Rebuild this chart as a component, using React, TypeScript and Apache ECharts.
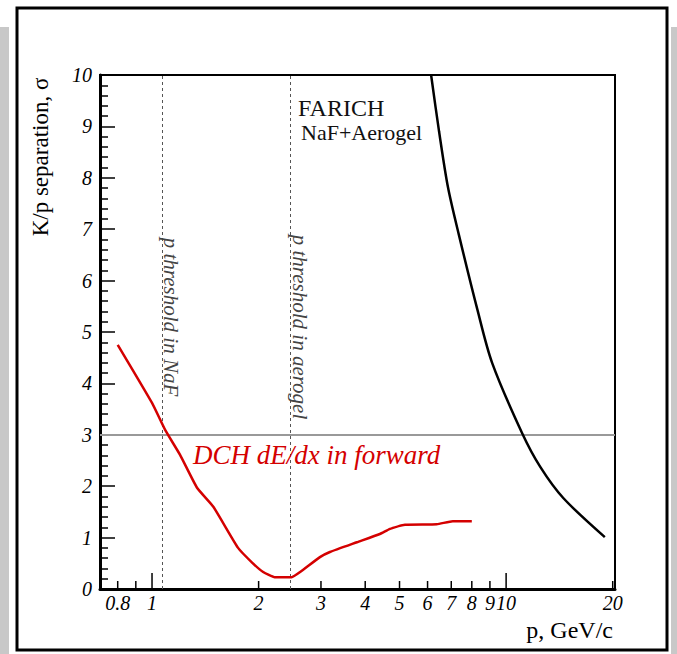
import React, { useEffect, useRef } from "react";
import * as echarts from "echarts";

// DCH dE/dx in forward (red)
const redP = [0.8, 1.0, 1.09, 1.2, 1.34, 1.49, 1.75, 1.92, 2.06, 2.22, 2.48, 2.62, 2.98, 3.18, 3.79, 4.4, 4.7, 5.18, 6.37, 7.07, 8.0];
const redSigma = [4.75, 3.62, 3.09, 2.61, 1.97, 1.6, 0.8, 0.51, 0.33, 0.23, 0.23, 0.33, 0.62, 0.72, 0.91, 1.07, 1.17, 1.25, 1.26, 1.32, 1.32];

// FARICH NaF+Aerogel (black)
const blackP = [6.14, 6.47, 6.85, 7.35, 8.3, 9.13, 11.1, 12.5, 14.5, 19.0];
const blackSigma = [10.0, 8.89, 7.82, 6.9, 5.43, 4.4, 3.03, 2.37, 1.77, 1.01];

// thresholds
const thresholdNaF = 1.067;
const thresholdAerogel = 2.45;
const sigmaLevel = 3;

// x tick marks and labels
const xTickValues = [0.8, 0.9, 1, 2, 3, 4, 5, 6, 7, 8, 9, 10, 20];
const xTickLabels = ["0.8", "", "1", "2", "3", "4", "5", "6", "7", "8", "9", "10", "20"];
const xLongTicks = [1, 10];

const SERIF = "'Liberation Serif', 'DejaVu Serif', serif";

export default function App() {
  const ref = useRef<HTMLDivElement>(null);
  useEffect(() => {
    document.body.style.margin = "0";
    const chart = echarts.init(ref.current!, null, { renderer: "svg" });
    const option: any = {
      animation: false,
      backgroundColor: "#fff",
      grid: { left: 100, top: 75, right: 62, bottom: 65, show: true, borderColor: "#000", borderWidth: 2, backgroundColor: "transparent" },
      xAxis: {
        type: "log",
        logBase: 10,
        min: 0.713,
        max: 20.3,
        axisLine: { show: true, lineStyle: { color: "#000", width: 3 } },
        axisTick: { show: false },
        axisLabel: { show: false },
        splitLine: { show: false },
        minorTick: { show: false },
        minorSplitLine: { show: false },
      },
      yAxis: {
        type: "value",
        min: 0,
        max: 10,
        interval: 1,
        axisLine: { show: true, lineStyle: { color: "#000", width: 3 } },
        axisTick: { show: true, inside: true, length: 15, lineStyle: { color: "#000", width: 1.5 } },
        minorTick: { show: true, splitNumber: 5, length: 8, lineStyle: { color: "#000", width: 1.5 } },
        axisLabel: { fontFamily: SERIF, fontStyle: "italic", fontSize: 20, color: "#000", margin: 8 },
        splitLine: { show: false },
      },
      series: [
        {
          type: "line",
          data: redP.map((p, i) => [p, redSigma[i]]),
          showSymbol: false,
          smooth: 0.15,
          lineStyle: { color: "#d40000", width: 2.5 },
          z: 5,
          markLine: {
            silent: true,
            symbol: "none",
            label: { show: false },
            data: [
              { xAxis: thresholdNaF, lineStyle: { color: "#555", width: 1, type: [3, 3] } },
              { xAxis: thresholdAerogel, lineStyle: { color: "#555", width: 1, type: [3, 3] } },
              { yAxis: sigmaLevel, lineStyle: { color: "#999", width: 2, type: "solid" } },
            ],
          },
        },
        {
          type: "line",
          data: blackP.map((p, i) => [p, blackSigma[i]]),
          showSymbol: false,
          smooth: 0.3,
          lineStyle: { color: "#000", width: 2.5 },
          z: 5,
        },
        {
          type: "custom",
          data: xTickValues.map((v, i) => [v, 0, i]),
          renderItem: (params: any, api: any) => {
            const v = api.value(0);
            const idx = api.value(2);
            const pt = api.coord([v, 0]);
            const len = xLongTicks.includes(v) ? 16 : 8;
            const children: any[] = [
              { type: "line", shape: { x1: pt[0], y1: pt[1], x2: pt[0], y2: pt[1] - len }, style: { stroke: "#000", lineWidth: 1.5 } },
            ];
            const lbl = xTickLabels[idx];
            if (lbl) {
              children.push({
                type: "text",
                x: pt[0],
                y: pt[1] + 14,
                style: { text: lbl, align: "center", verticalAlign: "middle", font: `italic 20px ${SERIF}`, fill: "#000" },
              });
            }
            return { type: "group", children };
          },
          z: 6,
        },
      ],
      graphic: [
        { type: "rect", shape: { x: 0, y: 27, width: 9, height: 627 }, style: { fill: "#c8c8c8" }, z: -10 },
        { type: "rect", shape: { x: 671, y: 27, width: 6, height: 627 }, style: { fill: "#c8c8c8" }, z: -10 },
        { type: "rect", shape: { x: 17, y: 8, width: 650, height: 642 }, style: { fill: "none", stroke: "#000", lineWidth: 3 }, z: 10 },
        { type: "text", x: 298, y: 108, style: { text: "FARICH", font: `24px ${SERIF}`, fill: "#111", align: "left", verticalAlign: "middle" }, z: 10 },
        { type: "text", x: 301, y: 132.5, style: { text: "NaF+Aerogel", font: `22px ${SERIF}`, fill: "#111", align: "left", verticalAlign: "middle" }, z: 10 },
        { type: "text", x: 171, y: 317, rotation: -Math.PI / 2, style: { text: "p threshold in NaF", font: `italic 21px ${SERIF}`, fill: "#444", align: "center", verticalAlign: "middle" }, z: 10 },
        { type: "text", x: 300, y: 327, rotation: -Math.PI / 2, style: { text: "p threshold in aerogel", font: `italic 21px ${SERIF}`, fill: "#444", align: "center", verticalAlign: "middle" }, z: 10 },
        { type: "text", x: 193, y: 455, style: { text: "DCH dE/dx in forward", font: `italic 27px ${SERIF}`, fill: "#d40000", align: "left", verticalAlign: "middle" }, z: 10 },
        { type: "text", x: 40, y: 157, rotation: Math.PI / 2, style: { text: "K/p separation, σ", font: `23px ${SERIF}`, fill: "#000", align: "center", verticalAlign: "middle" }, z: 10 },
        { type: "text", x: 613, y: 630, style: { text: "p, GeV/c", font: `24px ${SERIF}`, fill: "#000", align: "right", verticalAlign: "middle" }, z: 10 },
      ],
    };
    chart.setOption(option);
    return () => chart.dispose();
  }, []);
  return <div ref={ref} style={{ width: 677, height: 654 }} />;
}
